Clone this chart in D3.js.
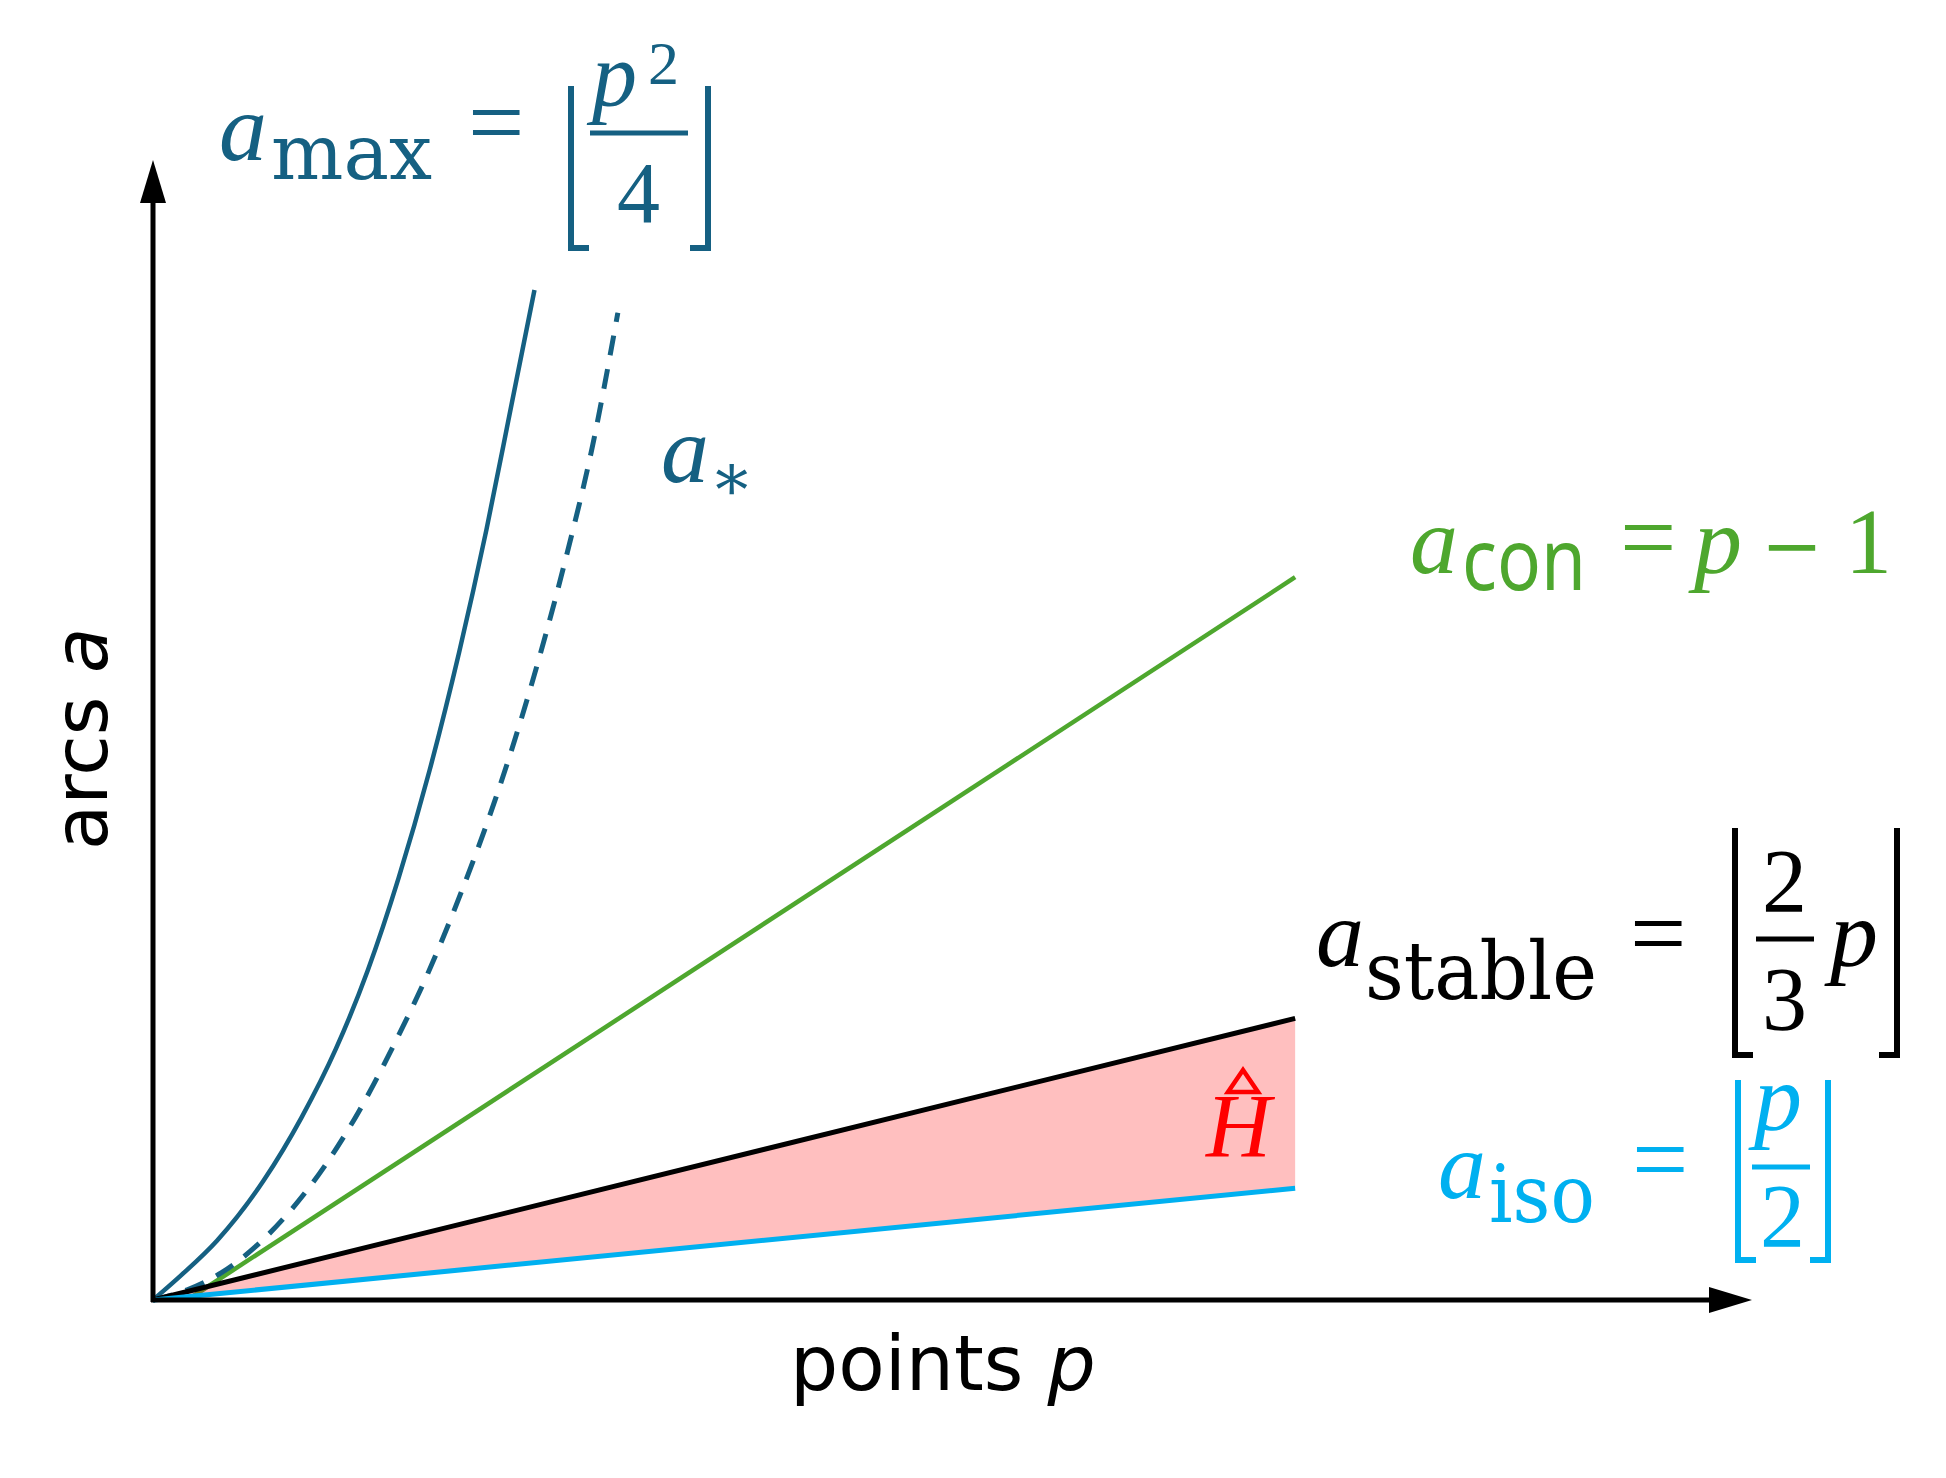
<!DOCTYPE html>
<html>
<head>
<meta charset="utf-8">
<script src="https://cdn.jsdelivr.net/npm/d3@7"></script>
<style>
  body { margin: 0; background: #fff; }
  svg { display: block; }
</style>
</head>
<body>
<div id="chart"></div>
<script>
var width = 1946;
var height = 1478;

// schematic curves (p = points, a = arcs)
var p_max = [0, 0.25, 0.56, 0.97, 1.30, 1.60, 1.88, 2.15, 2.42, 2.68, 2.92, 3.14, 3.34];
var a_max = [0, 0.22, 0.52, 1.05, 1.60, 2.20, 2.89, 3.70, 4.64, 5.68, 6.76, 7.86, 8.86];

var p_star = [0, 0.3, 0.6, 0.9, 1.2, 1.5, 1.8, 2.1, 2.4, 2.7, 3.0, 3.3, 3.6, 3.85, 4.07];
var a_star = [0, 0.09, 0.24, 0.47, 0.78, 1.17, 1.65, 2.22, 2.85, 3.58, 4.40, 5.35, 6.45, 7.50, 8.66];

var p_con = [0.3, 10];
var a_con = [0, 6.34];

var p_lin = [0, 10];
var a_stable = [0, 2.47];
var a_iso = [0, 0.98];

var x_axis_end = 14;
var y_axis_end = 10;

var col_max = "#156082";
var col_con = "#4ea72e";
var col_iso = "#00b0f0";
var col_fill = "rgba(255,0,0,0.25)";

var svg = d3.select("#chart").append("svg")
    .attr("width", width)
    .attr("height", height);

var x = d3.scaleLinear().domain([0, x_axis_end]).range([153, 1752]);
var y = d3.scaleLinear().domain([0, y_axis_end]).range([1300, 160]);

var line = d3.line()
    .x(function(d) { return x(d[0]); })
    .y(function(d) { return y(d[1]); })
    .curve(d3.curveMonotoneX);

// green a_con line (sits under the shaded region)
svg.append("path")
    .datum(d3.zip(p_con, a_con))
    .attr("d", line)
    .attr("fill", "none")
    .attr("stroke", col_con)
    .attr("stroke-width", 4.5);

// a_* dashed curve
svg.append("path")
    .datum(d3.zip(p_star, a_star))
    .attr("d", line)
    .attr("fill", "none")
    .attr("stroke", col_max)
    .attr("stroke-width", 5)
    .attr("stroke-dasharray", "20,14");

// a_max solid curve
svg.append("path")
    .datum(d3.zip(p_max, a_max))
    .attr("d", line)
    .attr("fill", "none")
    .attr("stroke", col_max)
    .attr("stroke-width", 4.5);

// shaded region between a_iso and a_stable
var area = d3.area()
    .x(function(d) { return x(d[0]); })
    .y0(function(d) { return y(d[1]); })
    .y1(function(d) { return y(d[2]); });

svg.append("path")
    .datum(d3.zip(p_lin, a_iso, a_stable))
    .attr("d", area)
    .attr("fill", col_fill);

svg.append("path")
    .datum(d3.zip(p_lin, a_stable))
    .attr("d", line)
    .attr("fill", "none")
    .attr("stroke", "#000")
    .attr("stroke-width", 5);

svg.append("path")
    .datum(d3.zip(p_lin, a_iso))
    .attr("d", line)
    .attr("fill", "none")
    .attr("stroke", col_iso)
    .attr("stroke-width", 5);

// axes with arrowheads
var arrow_len = 43, arrow_half = 13;

svg.append("line")
    .attr("x1", x(0) - 2).attr("y1", y(0))
    .attr("x2", x(x_axis_end) - arrow_len + 2).attr("y2", y(0))
    .attr("stroke", "#000").attr("stroke-width", 5);
svg.append("path")
    .attr("d", "M" + x(x_axis_end) + "," + y(0) +
               "L" + (x(x_axis_end) - arrow_len) + "," + (y(0) - arrow_half) +
               "L" + (x(x_axis_end) - arrow_len) + "," + (y(0) + arrow_half) + "Z")
    .attr("fill", "#000");

svg.append("line")
    .attr("x1", x(0)).attr("y1", y(0) + 2)
    .attr("x2", x(0)).attr("y2", y(y_axis_end) + arrow_len - 2)
    .attr("stroke", "#000").attr("stroke-width", 5);
svg.append("path")
    .attr("d", "M" + x(0) + "," + y(y_axis_end) +
               "L" + (x(0) - arrow_half) + "," + (y(y_axis_end) + arrow_len) +
               "L" + (x(0) + arrow_half) + "," + (y(y_axis_end) + arrow_len) + "Z")
    .attr("fill", "#000");

// axis titles
var sans = "'DejaVu Sans', Verdana, sans-serif";
var xt = svg.append("text")
    .attr("x", 790).attr("y", 1390)
    .attr("font-family", sans).attr("font-size", 76)
    .attr("fill", "#000");
xt.append("tspan").text("points ");
xt.append("tspan").attr("font-style", "italic").text("p");

var yt = svg.append("text")
    .attr("transform", "translate(107,850) rotate(-90)")
    .attr("font-family", sans).attr("font-size", 74)
    .attr("fill", "#000");
yt.append("tspan").text("arcs ");
yt.append("tspan").attr("font-style", "italic").text("a");

// formula helpers
var mathFont = "'Liberation Serif', 'Times New Roman', serif";
var uprightFont = "'DejaVu Serif', serif";

function put(txt, px, py, opts) {
    var t = svg.append("text")
        .attr("x", px).attr("y", py)
        .attr("font-family", opts.font || mathFont)
        .attr("font-size", opts.size || 96)
        .attr("fill", opts.color)
        .text(txt);
    if (opts.italic) t.attr("font-style", "italic");
    if (opts.len) t.attr("textLength", opts.len).attr("lengthAdjust", "spacingAndGlyphs");
    if (opts.anchor) t.attr("text-anchor", opts.anchor);
    return t;
}

function eq(px, cy, color) {
    // "=" sign, placed by its vertical centre
    return put("=", px, cy + 25, {color: color, size: 100});
}

function floorBrackets(xl, xr, top, bottom, color) {
    var foot = 18;
    svg.append("path")
        .attr("d", "M" + xl + "," + top + "V" + bottom + "H" + (xl + foot) +
                   "M" + xr + "," + top + "V" + bottom + "H" + (xr - foot))
        .attr("fill", "none").attr("stroke", color).attr("stroke-width", 6);
}

function fracBar(x1, x2, yy, color) {
    svg.append("line")
        .attr("x1", x1).attr("x2", x2).attr("y1", yy).attr("y2", yy)
        .attr("stroke", color).attr("stroke-width", 5);
}

// a_max = floor(p^2 / 4)
put("a", 219, 160, {color: col_max, italic: true});
put("max", 271, 179, {color: col_max, font: uprightFont, size: 76, len: 161});
eq(468, 131, col_max);
floorBrackets(571, 708, 86, 248, col_max);
put("p", 592, 106, {color: col_max, italic: true, size: 90});
put("2", 648, 84, {color: col_max, size: 62});
fracBar(590, 688, 133, col_max);
put("4", 617, 222, {color: col_max, size: 86});

// a_*
put("a", 661, 482, {color: col_max, italic: true});
put("\u2217", 732, 500, {color: col_max, font: uprightFont, size: 66, anchor: "middle"});

// a_con = p - 1
put("a", 1410, 573, {color: col_con, italic: true});
put("con", 1462, 590, {color: col_con, font: "'Noto Sans', sans-serif", size: 86, len: 124});
eq(1620, 546, col_con);
put("p", 1694, 573, {color: col_con, italic: true});
put("\u2212", 1761, 571, {color: col_con, font: uprightFont, size: 74});
put("1", 1845, 573, {color: col_con, size: 94});

// a_stable = floor(2/3 p)
put("a", 1316, 966, {color: "#000", italic: true});
put("stable", 1365, 999, {color: "#000", font: uprightFont, size: 80, len: 232});
eq(1630, 942, "#000");
floorBrackets(1735, 1897, 828, 1055, "#000");
put("2", 1762, 912, {color: "#000", size: 90});
fracBar(1756, 1814, 939, "#000");
put("3", 1762, 1030, {color: "#000", size: 90});
put("p", 1830, 966, {color: "#000", italic: true});

// a_iso = floor(p/2)
put("a", 1438, 1198, {color: col_iso, italic: true});
put("iso", 1489, 1222, {color: col_iso, font: uprightFont, size: 80, len: 106});
eq(1632, 1168, col_iso);
floorBrackets(1738, 1828, 1080, 1260, col_iso);
put("p", 1754, 1130, {color: col_iso, italic: true});
fracBar(1752, 1810, 1167, col_iso);
put("2", 1760, 1247, {color: col_iso, size: 90});

// H-hat label in the shaded region
put("H", 1206, 1157, {color: "#ff0000", italic: true, size: 90});
svg.append("path")
    .attr("d", "M1243,1070L1228,1092H1258Z")
    .attr("fill", "none").attr("stroke", "#ff0000").attr("stroke-width", 4.5)
    .attr("stroke-linejoin", "miter");
</script>
</body>
</html>
